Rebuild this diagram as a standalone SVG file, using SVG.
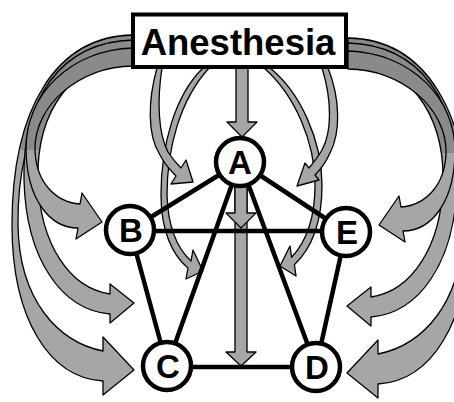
<svg xmlns="http://www.w3.org/2000/svg" xmlns:xlink="http://www.w3.org/1999/xlink" width="454" height="402" viewBox="0 0 454 402">
<defs>
<style>
.arr{stroke:#000;stroke-width:1.3;stroke-linejoin:round}
.outer{fill:url(#shade)}
.inner{fill:#a6a6a6}
.edge{stroke:#000;stroke-width:4.5;stroke-linecap:round;fill:none}
.node circle{fill:#fff;stroke:#000;stroke-width:4.5}
.lbl{font-family:"Liberation Sans",Arial,sans-serif;font-weight:bold;fill:#000;text-anchor:middle}
</style>
<linearGradient id="shade" gradientUnits="userSpaceOnUse" x1="0" y1="0" x2="0" y2="402">
<stop offset="0" stop-color="#8a8a8a"/>
<stop offset="0.373" stop-color="#8a8a8a"/>
<stop offset="0.373" stop-color="#a6a6a6"/>
<stop offset="1" stop-color="#a6a6a6"/>
</linearGradient>
<path id="oC" d="M133,35 C55,36 12,110 12,225 C12,320 50,378 103,381 L103,395 L134,370 L103,337 L103,351 C58,342 19,300 18,225 C17,125 60,50 133,50 Z"/>
<path id="oBC" d="M133,40 C60,42 22,100 24,180 C26,260 62,310 110,314 L110,323 L134,303 L110,284 L110,294 C70,288 40,245 38,180 C36,110 75,58 133,58 Z"/>
<path id="oB" d="M133,48 C70,50 25,95 26,150 C27,200 50,228 78,228 L76,239 L102,222 L82,193 L80,204 C55,202 36,182 35,150 C34,105 80,66 133,66 Z"/>
</defs>
<rect width="454" height="402" fill="#fff"/>
<g id="connectors">
<g id="outer-left" class="arr outer">
<use xlink:href="#oC"/>
<use xlink:href="#oBC"/>
<use xlink:href="#oB"/>
</g>
<g id="outer-right" class="arr outer" transform="matrix(-1 0 0 1 481 3)">
<use xlink:href="#oC"/>
<use xlink:href="#oBC"/>
<use xlink:href="#oB"/>
</g>
<g id="inner-arrows" class="arr inner">
<path d="M203,68 C175,95 161,145 161,195 C161,230 172,255 188,268 L186,279 L203,271 L193,250 L191,261 C178,249 168,228 167,195 C167,148 180,100 209,68 Z"/>
<path d="M157,68 C148,100 147,135 160,155 C164,163 170,170 176,176 L171,184 L193,182 L186,160 L181,168 C176,163 172,158 168,152 C158,133 157,100 162,68 Z"/>
<path d="M270,68 C300,92 322,140 322,185 C322,222 312,248 294.4,264.7 L296,276 L280,266 L290,246 L291.6,257.3 C305,243 315,220 315,185 C315,142 295,95 264,68 Z"/>
<path d="M328,68 C340,98 341,132 330,153 C326,162 321,169 315,175 L319,180 L297,186 L305,163 L309,168 C314,162 318,157 322,150 C332,132 332,100 322,68 Z"/>
<path d="M235,185 L235,352 L226,352 L241,366 L256,352 L247,352 L247,185 Z"/>
<path d="M235,185 L235,213 L226,213 L241,228 L256,213 L247,213 L247,185 Z"/>
<path d="M236,68 L236,122 L227,122 L242,137 L257,122 L248,122 L248,68 Z"/>
</g>
<g id="edges" class="edge">
<line x1="240" y1="162" x2="130" y2="230"/>
<line x1="240" y1="162" x2="346" y2="232"/>
<line x1="130" y1="231" x2="346" y2="231"/>
<line x1="130" y1="230" x2="167" y2="366"/>
<line x1="346" y1="232" x2="316" y2="367"/>
<line x1="167" y1="367" x2="316" y2="367"/>
<line x1="240" y1="162" x2="167" y2="366"/>
<line x1="240" y1="162" x2="316" y2="367"/>
</g>
</g>
<g id="node-A" class="node"><circle cx="240" cy="162" r="24"/><text class="lbl" x="240" y="174" font-size="33">A</text></g>
<g id="node-B" class="node"><circle cx="130" cy="230" r="24"/><text class="lbl" x="131" y="242" font-size="33">B</text></g>
<g id="node-C" class="node"><circle cx="167" cy="366" r="24"/><text class="lbl" x="168" y="378" font-size="33">C</text></g>
<g id="node-D" class="node"><circle cx="316" cy="367" r="24"/><text class="lbl" x="317" y="379" font-size="33">D</text></g>
<g id="node-E" class="node"><circle cx="346" cy="232" r="24"/><text class="lbl" x="347" y="244" font-size="33">E</text></g>
<g id="node-Anesthesia">
<rect x="133" y="14.5" width="213" height="52.5" fill="#fff" stroke="#000" stroke-width="4"/>
<text class="lbl" x="238" y="55" font-size="36.5">Anesthesia</text>
</g>
</svg>
